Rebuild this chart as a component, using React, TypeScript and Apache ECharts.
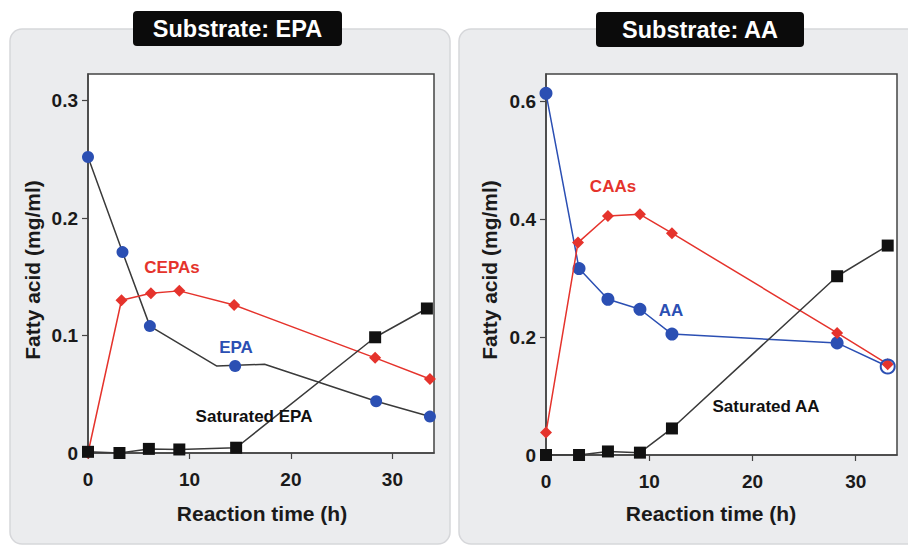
import React, { useEffect, useRef } from "react";
import * as echarts from "echarts";

// ---- Left panel (substrate EPA) ----
const EPA_T = [0, 3.4, 6.1, 14.5, 28.4, 33.7];
const EPA_V = [0.252, 0.171, 0.108, 0.074, 0.044, 0.031];
const EPA_TRACE_T = [0, 3.4, 6.1, 12.7, 17.4, 28.4, 33.7];
const EPA_TRACE_V = [0.252, 0.171, 0.108, 0.074, 0.0755, 0.044, 0.031];
const CEPA_T = [0, 3.3, 6.2, 9.0, 14.4, 28.3, 33.7];
const CEPA_V = [0, 0.13, 0.136, 0.138, 0.126, 0.081, 0.063];
const SEPA_T = [0, 3.1, 6.0, 9.0, 14.6, 28.3, 33.4];
const SEPA_V = [0.001, 0, 0.0035, 0.003, 0.0045, 0.0985, 0.123];

// ---- Right panel (substrate AA) ----
const AA_T = [0, 3.2, 6.0, 9.1, 12.2, 28.2, 33.1];
const AA_V = [0.613, 0.316, 0.264, 0.247, 0.205, 0.19, 0.15];
const CAA_T = [0, 3.1, 6.0, 9.1, 12.2, 28.2, 33.1];
const CAA_V = [0.038, 0.36, 0.405, 0.408, 0.376, 0.207, 0.154];
const SAA_T = [0, 3.2, 6.0, 9.1, 12.2, 28.2, 33.1];
const SAA_V = [0, 0, 0.006, 0.004, 0.045, 0.303, 0.355];

const X_TICKS = [0, 10, 20, 30];
const Y_TICKS_EPA = [0, 0.1, 0.2, 0.3];
const Y_TICKS_AA = [0, 0.2, 0.4, 0.6];

const TITLES = ["Substrate: EPA", "Substrate: AA"];
const X_TITLE = "Reaction time (h)";
const Y_TITLE = "Fatty acid (mg/ml)";

const FONT = "'Liberation Sans', Arial, Helvetica, sans-serif";
const BLUE = "#2b4fb3";
const RED = "#e5332c";
const DARK = "#111111";
const LINE_GREY = "#3a3a3a";

const pairs = (xs: number[], ys: number[]) => xs.map((x, i) => [x, ys[i]]);

function xAxis(gridIndex: number, max: number) {
  return {
    type: "value",
    gridIndex,
    min: 0,
    max,
    interval: 10,
    splitLine: { show: false },
    axisLine: { show: true, lineStyle: { color: "#444", width: 1.5 } },
    axisTick: { show: true, length: 6, inside: false, customValues: X_TICKS, lineStyle: { color: "#444", width: 1.2 } },
    axisLabel: {
      customValues: X_TICKS,
      margin: 17,
      fontSize: 19,
      fontWeight: "bold",
      fontFamily: FONT,
      color: "#1a1a1a",
    },
  };
}

function yAxis(gridIndex: number, max: number, ticks: number[]) {
  return {
    type: "value",
    gridIndex,
    min: 0,
    max,
    splitLine: { show: false },
    axisLine: { show: true, lineStyle: { color: "#444", width: 1.5 } },
    axisTick: { show: true, length: 6, inside: false, customValues: ticks, lineStyle: { color: "#444", width: 1.2 } },
    axisLabel: {
      customValues: ticks,
      margin: 10,
      fontSize: 19,
      fontWeight: "bold",
      fontFamily: FONT,
      color: "#1a1a1a",
      formatter: (v: number) => (v === 0 ? "0" : String(Math.round(v * 10) / 10)),
    },
  };
}

function panel(x: number, width: number) {
  return {
    type: "rect",
    z: -10,
    shape: { x, y: 29, width, height: 515, r: 12 },
    style: { fill: "#ebecee", stroke: "#d6d7da", lineWidth: 1.5 },
  };
}

function titleBox(x: number, y: number, w: number, text: string) {
  return [
    {
      type: "rect",
      z: 50,
      shape: { x, y, width: w, height: 35, r: 4 },
      style: { fill: "#0b0b0b" },
    },
    {
      type: "text",
      z: 51,
      x: x + w / 2,
      y: y + 18,
      style: {
        text,
        fill: "#ffffff",
        font: `bold 23.5px ${FONT}`,
        align: "center",
        verticalAlign: "middle",
      },
    },
  ];
}

function label(x: number, y: number, text: string, color: string, rotation = 0, size = 17) {
  return {
    type: "text",
    z: 60,
    x,
    y,
    rotation,
    style: {
      text,
      fill: color,
      font: `bold ${size}px ${FONT}`,
      align: "center",
      verticalAlign: "middle",
    },
  };
}

export default function App() {
  const ref = useRef<HTMLDivElement>(null);

  useEffect(() => {
    if (!ref.current) return;
    const chart = echarts.init(ref.current, undefined, { renderer: "svg" });

    const lastAA = AA_T.length - 1;

    chart.setOption({
      animation: false,
      backgroundColor: "#ffffff",
      grid: [
        { left: 88, top: 74, width: 346, height: 379, show: true, backgroundColor: "#ffffff", borderColor: "#444", borderWidth: 1.5 },
        { left: 546, top: 74, width: 351, height: 381, show: true, backgroundColor: "#ffffff", borderColor: "#444", borderWidth: 1.5 },
      ],
      xAxis: [xAxis(0, 34.1), xAxis(1, 34.0)],
      yAxis: [yAxis(0, 0.3226, Y_TICKS_EPA), yAxis(1, 0.6458, Y_TICKS_AA)],
      graphic: [
        panel(10, 440),
        panel(459, 470),
        ...titleBox(133, 11, 209, TITLES[0]),
        ...titleBox(596, 12, 208, TITLES[1]),
        label(32, 270, Y_TITLE, "#1a1a1a", Math.PI / 2, 21),
        label(489, 270, Y_TITLE, "#1a1a1a", Math.PI / 2, 21),
        label(262, 513, X_TITLE, "#1a1a1a", 0, 21),
        label(711, 513, X_TITLE, "#1a1a1a", 0, 21),
        label(172, 267, "CEPAs", RED),
        label(236, 347, "EPA", BLUE),
        label(254, 416, "Saturated EPA", DARK),
        label(613, 186, "CAAs", RED),
        label(671, 310, "AA", BLUE),
        label(766, 406, "Saturated AA", DARK),
      ],
      series: [
        // Left panel
        {
          type: "line",
          xAxisIndex: 0,
          yAxisIndex: 0,
          data: pairs(EPA_TRACE_T, EPA_TRACE_V),
          showSymbol: false,
          symbol: "none",
          lineStyle: { color: LINE_GREY, width: 1.5 },
          z: 2,
        },
        {
          type: "scatter",
          xAxisIndex: 0,
          yAxisIndex: 0,
          data: pairs(EPA_T, EPA_V),
          symbol: "circle",
          symbolSize: 12,
          itemStyle: { color: BLUE, opacity: 1 },
          z: 3,
        },
        {
          type: "line",
          xAxisIndex: 0,
          yAxisIndex: 0,
          data: pairs(CEPA_T, CEPA_V),
          symbol: "diamond",
          symbolSize: 12,
          showAllSymbol: true,
          lineStyle: { color: RED, width: 1.5 },
          itemStyle: { color: RED },
          z: 4,
        },
        {
          type: "line",
          xAxisIndex: 0,
          yAxisIndex: 0,
          data: pairs(SEPA_T, SEPA_V),
          symbol: "rect",
          symbolSize: 12,
          showAllSymbol: true,
          lineStyle: { color: LINE_GREY, width: 1.5 },
          itemStyle: { color: DARK },
          z: 5,
        },
        // Right panel
        {
          type: "line",
          xAxisIndex: 1,
          yAxisIndex: 1,
          data: pairs(AA_T.slice(0, lastAA + 1), AA_V).map((p, i) => (i === lastAA ? { value: p, symbolSize: 1 } : p)),
          symbol: "circle",
          symbolSize: 13,
          showAllSymbol: true,
          lineStyle: { color: BLUE, width: 1.5 },
          itemStyle: { color: BLUE },
          z: 3,
        },
        {
          type: "line",
          xAxisIndex: 1,
          yAxisIndex: 1,
          data: pairs(CAA_T, CAA_V),
          symbol: "diamond",
          symbolSize: 12,
          showAllSymbol: true,
          lineStyle: { color: RED, width: 1.5 },
          itemStyle: { color: RED },
          z: 4,
        },
        {
          type: "scatter",
          xAxisIndex: 1,
          yAxisIndex: 1,
          data: [[AA_T[lastAA], AA_V[lastAA]]],
          symbol: "circle",
          symbolSize: 14,
          itemStyle: { color: "rgba(0,0,0,0)", borderColor: BLUE, borderWidth: 2, opacity: 1 },
          z: 6,
        },
        {
          type: "line",
          xAxisIndex: 1,
          yAxisIndex: 1,
          data: pairs(SAA_T, SAA_V),
          symbol: "rect",
          symbolSize: 12,
          showAllSymbol: true,
          lineStyle: { color: LINE_GREY, width: 1.5 },
          itemStyle: { color: DARK },
          z: 5,
        },
      ],
    });

    return () => chart.dispose();
  }, []);

  return (
    <div
      ref={ref}
      style={{ position: "absolute", left: 0, top: 0, width: 908, height: 546 }}
    />
  );
}
